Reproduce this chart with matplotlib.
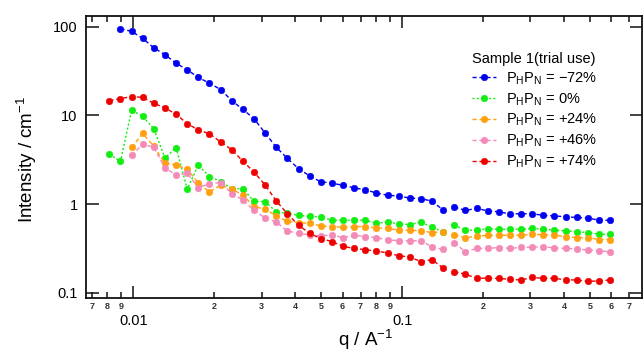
import matplotlib
matplotlib.use('Agg')
import matplotlib.pyplot as plt
from matplotlib.ticker import FixedLocator, FixedFormatter, NullLocator
import numpy as np

plt.rcParams['font.family'] = ['Liberation Sans', 'DejaVu Sans']
plt.rcParams['mathtext.fontset'] = 'custom'
plt.rcParams['mathtext.rm'] = 'Liberation Sans'
plt.rcParams['mathtext.it'] = 'Liberation Sans:italic'

# ---- data ----
q = [0.00815, 0.00896, 0.00986, 0.01084, 0.01192, 0.01312, 0.01443, 0.01587,
     0.01746, 0.01920, 0.02113, 0.02324, 0.02556, 0.02812, 0.03093, 0.03402,
     0.03743, 0.04117, 0.04529, 0.04981, 0.05480, 0.06027, 0.06630, 0.07293,
     0.08023, 0.08825, 0.09707, 0.10678, 0.11746, 0.12920, 0.14213, 0.15634,
     0.17197, 0.18917, 0.20809, 0.22890, 0.25179, 0.27697, 0.30466, 0.33513,
     0.36864, 0.40551, 0.44606, 0.49066, 0.53973, 0.59370]

# blue (-72%) starts at q[1]
I_m72 = [94.9, 88.5, 73.8, 57.9, 48.3, 38.8, 32.7, 26.8, 23.1, 19.6, 14.7, 11.7,
         9.2, 6.34, 4.39, 3.28, 2.52, 2.08, 1.79, 1.73, 1.63, 1.53, 1.45, 1.34,
         1.26, 1.24, 1.17, 1.16, 1.08, 0.86,
         0.93, 0.85, 0.90, 0.84, 0.82, 0.78, 0.78, 0.78, 0.75, 0.74, 0.72, 0.71,
         0.70, 0.66, 0.66]
# green (0%) starts at q[0]
I_0 = [3.65, 3.03, 11.5, 9.77, 7.10, 3.31, 4.35, 1.48, 2.76, 2.05, 1.80, 1.50,
       1.50, 1.08, 1.07, 0.82, 0.79, 0.75, 0.73, 0.72, 0.66, 0.66, 0.66, 0.66,
       0.61, 0.63, 0.60, 0.59, 0.63, 0.55, 0.49,
       0.58, 0.51, 0.51, 0.53, 0.52, 0.525, 0.52, 0.533, 0.525, 0.51, 0.50,
       0.49, 0.48, 0.46, 0.46]
# orange (+24%) starts at q[2]
I_p24 = [4.36, 6.28, 4.5, 2.90, 2.76, 2.48, 1.73, 1.38, 1.64, 1.48, 1.27, 0.94,
         0.88, 0.74, 0.64, 0.62, 0.61, 0.57, 0.56, 0.55, 0.56, 0.56, 0.54, 0.535,
         0.51, 0.51, 0.50, 0.48, 0.49,
         0.45, 0.42, 0.435, 0.447, 0.447, 0.447, 0.447, 0.458, 0.454, 0.447,
         0.43, 0.42, 0.42, 0.40, 0.40]
# pink (+46%) starts at q[2]
I_p46 = [3.54, 4.76, 4.36, 2.57, 2.14, 2.22, 1.53, 1.71, 1.75, 1.32, 1.12, 0.85,
         0.70, 0.63, 0.50, 0.47, 0.45, 0.44, 0.45, 0.42, 0.45, 0.43, 0.42, 0.395,
         0.39, 0.387, 0.39, 0.33, 0.31,
         0.37, 0.29, 0.318, 0.318, 0.325, 0.318, 0.327, 0.328, 0.331, 0.322,
         0.318, 0.313, 0.305, 0.299, 0.291]
# red (+74%) starts at q[0]
I_p74 = [14.7, 15.5, 16.3, 16.0, 13.7, 12.2, 10.3, 8.1, 6.86, 6.23, 5.03, 4.11,
         3.06, 2.30, 1.65, 1.09, 0.78, 0.58, 0.47, 0.41, 0.38, 0.335, 0.318,
         0.307, 0.297, 0.282, 0.263, 0.254, 0.226, 0.237, 0.191,
         0.173, 0.163, 0.146, 0.147, 0.146, 0.1425, 0.140, 0.150, 0.146, 0.146,
         0.141, 0.140, 0.135, 0.137, 0.140]

labels = [r'P$_\mathregular{H}$P$_\mathregular{N}$ = −72%',
          r'P$_\mathregular{H}$P$_\mathregular{N}$ = 0%',
          r'P$_\mathregular{H}$P$_\mathregular{N}$ = +24%',
          r'P$_\mathregular{H}$P$_\mathregular{N}$ = +46%',
          r'P$_\mathregular{H}$P$_\mathregular{N}$ = +74%']
colors = ['#0000f0', '#11ee11', '#ffa010', '#f48ab8', '#ee0000']
styles = [(0, (3, 2)), (0, (1.5, 1.5)), (0, (3, 2)), (0, (3, 2)), (0, (3, 2))]
series = [(q[1:], I_m72), (q, I_0), (q[2:], I_p24), (q[2:], I_p46), (q, I_p74)]

BREAK_Q = 0.15  # second data segment starts here

x_major = [0.01, 0.1]
x_major_lbl = ['0.01', '0.1']
x_minor = [0.007, 0.008, 0.009, 0.02, 0.03, 0.04, 0.05, 0.06, 0.07, 0.08, 0.09,
           0.2, 0.3, 0.4, 0.5, 0.6, 0.7]
x_minor_lbl = ['7', '8', '9', '2', '3', '4', '5', '6', '7', '8', '9',
               '2', '3', '4', '5', '6', '7']
y_major = [0.1, 1, 10, 100]
y_major_lbl = ['0.1', '1', '10', '100']

fig = plt.figure(figsize=(6.43, 3.51), dpi=100)
ax = fig.add_axes([86 / 643, 1 - 297.7 / 351, (642.3 - 86) / 643, (297.7 - 16) / 351])
ax.set_xscale('log')
ax.set_yscale('log')

handles = []
for (qq, yy), c, ls, lab in zip(series, colors, styles, labels):
    qq = np.asarray(qq)
    yy = np.asarray(yy)
    m1 = qq < BREAK_Q
    m2 = ~m1
    h, = ax.plot(qq[m1], yy[m1], color=c, ls=ls, lw=1.0, marker='o', ms=4.7,
                 mew=0.4, mec=c, mfc=c, label=lab)
    ax.plot(qq[m2], yy[m2], color=c, ls=ls, lw=1.0, marker='o', ms=4.7,
            mew=0.4, mec=c, mfc=c)
    handles.append(h)

ax.set_xlim(0.00667, 0.782)
ax.set_ylim(0.0885, 132)

ax.xaxis.set_major_locator(FixedLocator(x_major))
ax.xaxis.set_major_formatter(FixedFormatter(x_major_lbl))
ax.xaxis.set_minor_locator(FixedLocator(x_minor))
ax.xaxis.set_minor_formatter(FixedFormatter(x_minor_lbl))
ax.yaxis.set_major_locator(FixedLocator(y_major))
ax.yaxis.set_major_formatter(FixedFormatter(y_major_lbl))
ax.yaxis.set_minor_locator(NullLocator())

ax.tick_params(which='both', direction='in', top=True, right=True, width=1.1,
               color='#111111')
ax.tick_params(axis='x', which='major', length=8.5, pad=12, labelsize=10.5)
ax.tick_params(axis='x', which='minor', length=4.3, pad=3, labelsize=6.5)
ax.tick_params(axis='y', which='major', length=9, pad=6, labelsize=10.5)
for t in ax.xaxis.get_minorticklabels():
    t.set_fontweight('bold')
    t.set_color('#333333')
for s in ax.spines.values():
    s.set_linewidth(1.3)
    s.set_color('#111111')

fig.text(27 / 643, 1 - 159 / 351, 'Intensity / cm$^{\\mathregular{-1}}$',
         fontsize=13.5, rotation=90, ha='center', va='center')
fig.text(366 / 643, 1 - 345.5 / 351, 'q / A$^{\\mathregular{-1}}$',
         fontsize=13.5, ha='center', va='baseline')

leg = ax.legend(handles=handles, loc='upper left',
                bbox_to_anchor=(462 / 643, 1 - 41.5 / 351),
                bbox_transform=fig.transFigure, frameon=False, fontsize=10.5,
                title='Sample 1(trial use)', title_fontsize=10.5,
                handlelength=1.6, handletextpad=0.75, labelspacing=0.31,
                borderpad=0.2, alignment='left')

fig.savefig('out.png', dpi=100)
